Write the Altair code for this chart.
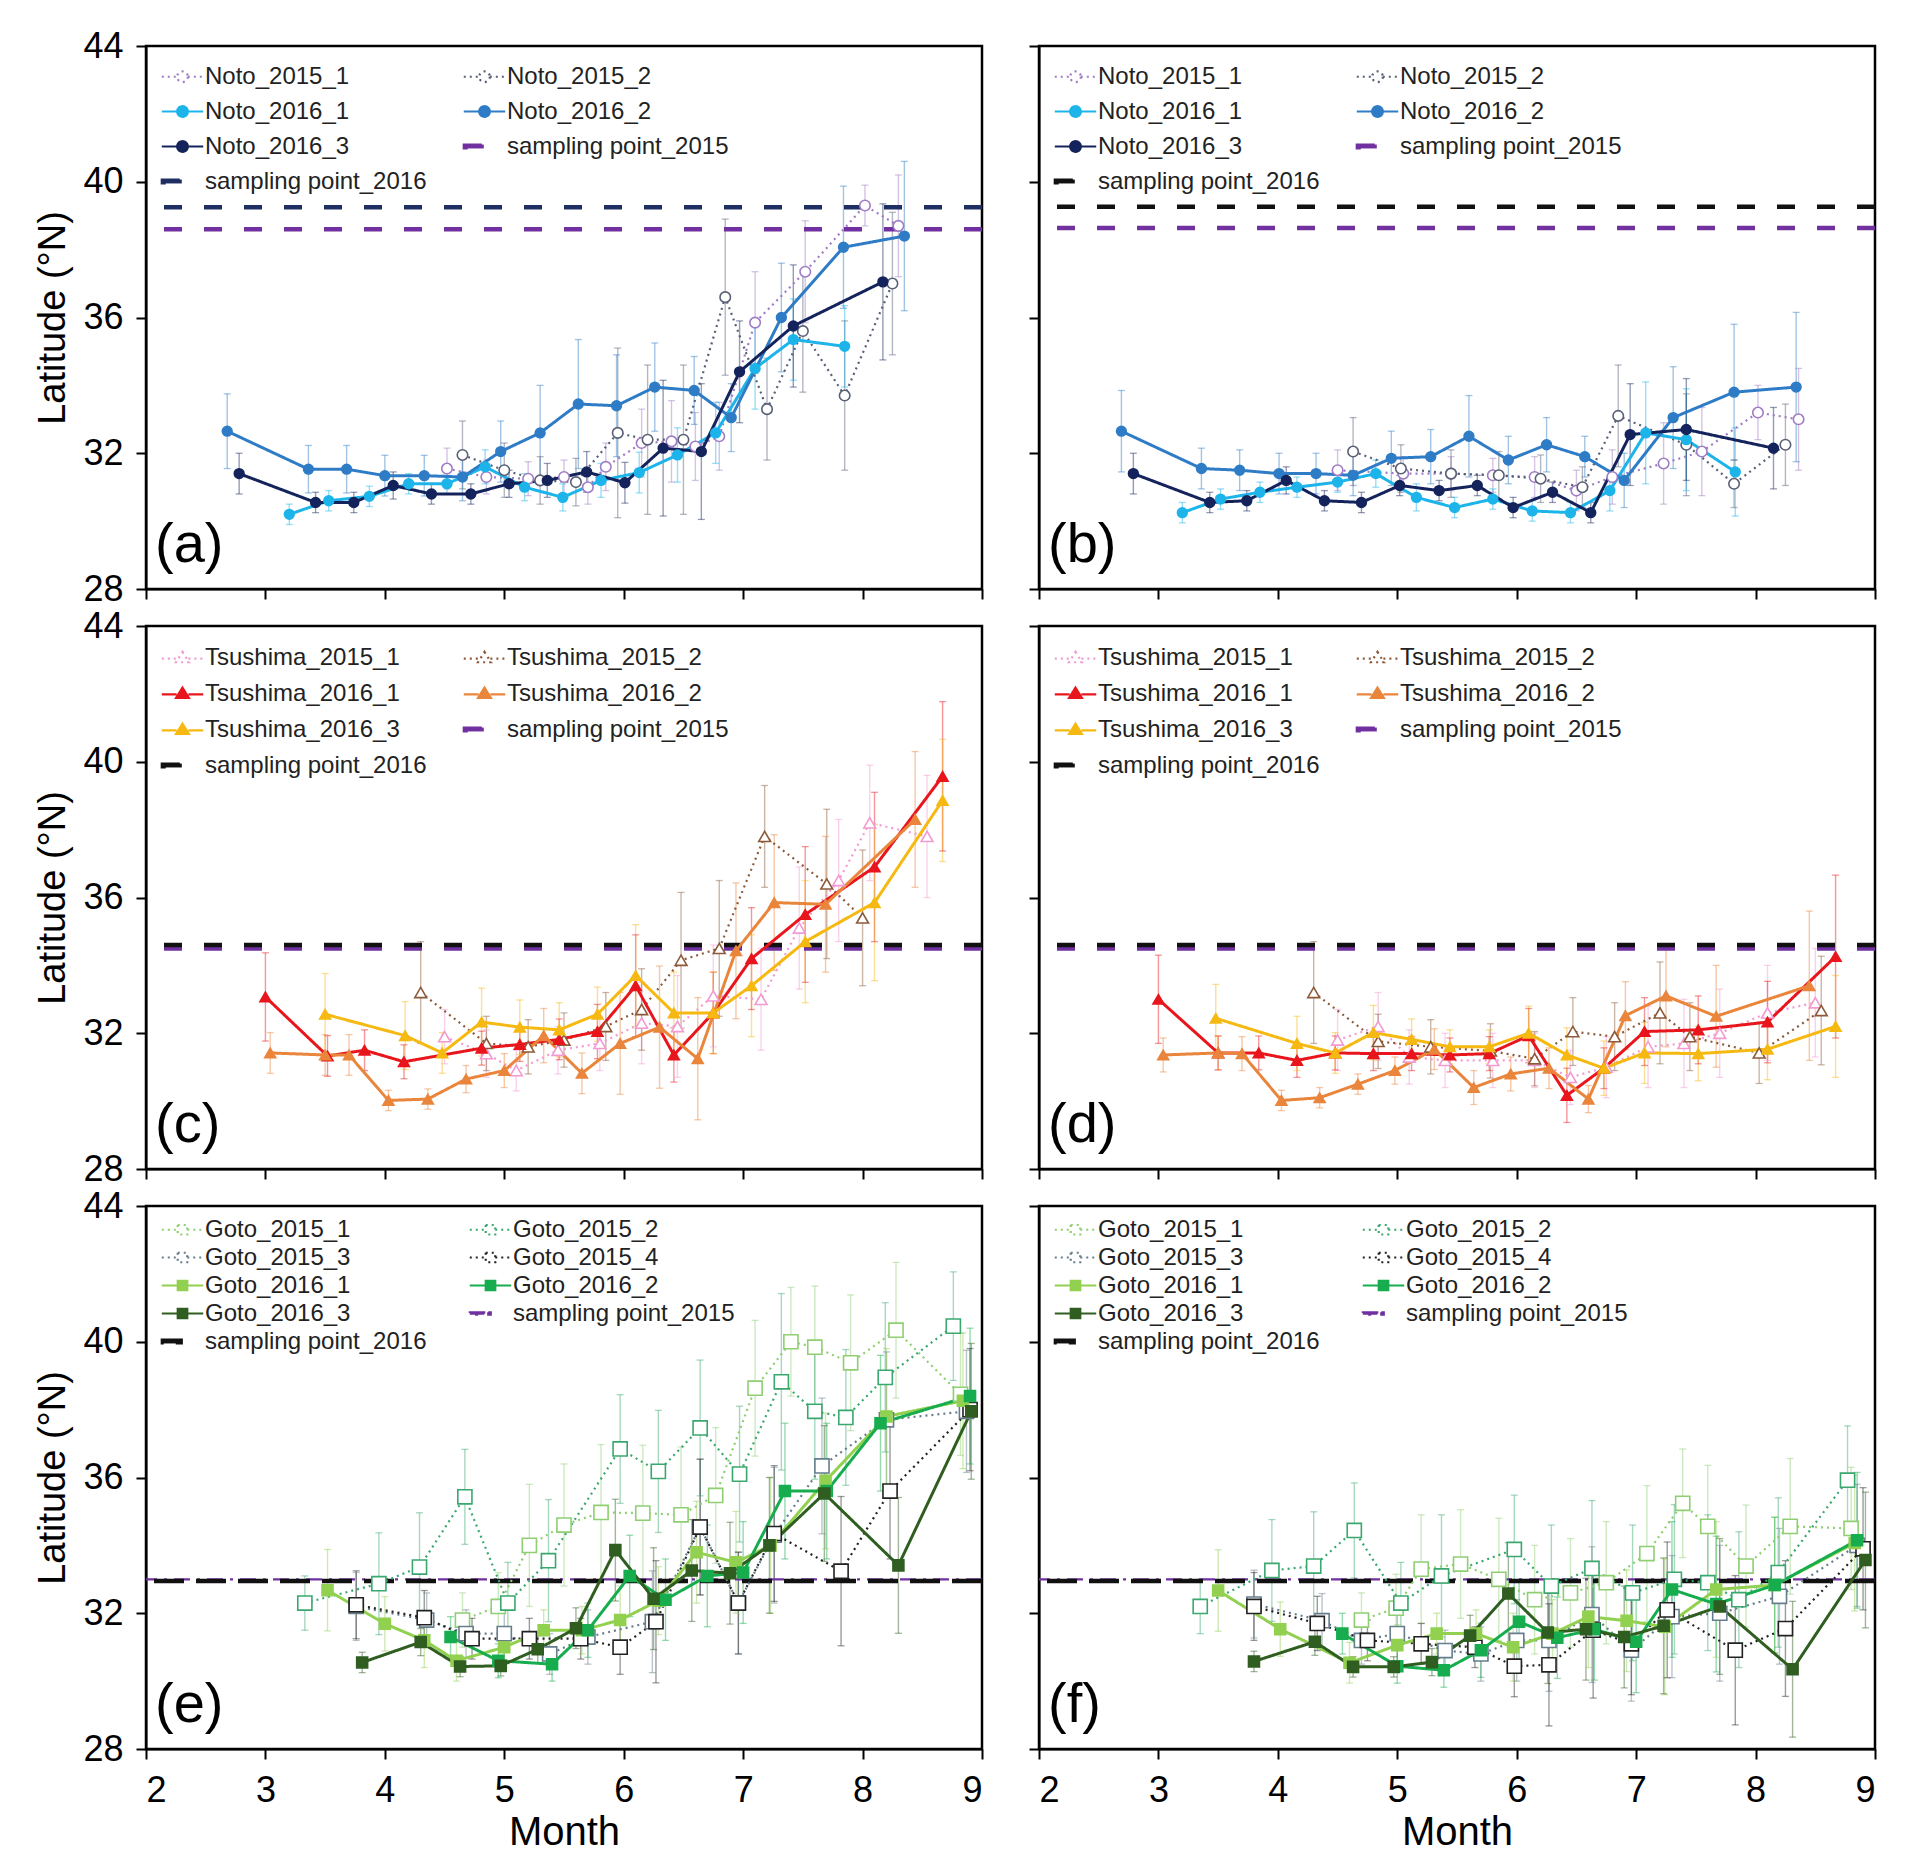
import altair as alt
import pandas as pd

# ---------------------------------------------------------------- data
# (a) Noto, all
a_noto2015_1_month = [4.52, 4.85, 5.2, 5.5, 5.7, 5.85, 6.15, 6.4, 6.6, 6.8, 7.1, 7.52, 8.02, 8.3]
a_noto2015_1_lat = [31.55, 31.3, 31.25, 31.3, 31.0, 31.6, 32.3, 32.35, 32.2, 32.5, 35.85, 37.35, 39.3, 38.7]
a_noto2015_1_err = [0.6, 0.5, 0.5, 0.5, 0.5, 0.7, 1.0, 1.2, 1.0, 1.0, 1.5, 1.5, 0.6, 1.5]
a_noto2015_2_month = [4.65, 5.0, 5.3, 5.6, 5.95, 6.2, 6.5, 6.85, 7.2, 7.5, 7.85, 8.25]
a_noto2015_2_lat = [31.95, 31.5, 31.2, 31.15, 32.6, 32.4, 32.4, 36.6, 33.3, 35.6, 33.7, 37.0]
a_noto2015_2_err = [1.0, 0.8, 0.7, 0.7, 2.5, 2.2, 2.2, 2.3, 1.5, 1.8, 2.2, 2.1]
a_noto2016_1_month = [3.2, 3.53, 3.87, 4.2, 4.52, 4.84, 5.17, 5.49, 5.81, 6.13, 6.45, 6.77, 7.1, 7.42, 7.85]
a_noto2016_1_lat = [30.2, 30.6, 30.73, 31.1, 31.1, 31.6, 31.0, 30.7, 31.2, 31.43, 31.95, 32.6, 34.5, 35.35, 35.15]
a_noto2016_1_err = [0.3, 0.3, 0.3, 0.3, 0.3, 0.5, 0.4, 0.4, 0.5, 0.6, 0.8, 0.9, 1.2, 1.2, 1.2]
a_noto2016_2_month = [2.68, 3.36, 3.68, 4.0, 4.33, 4.65, 4.97, 5.3, 5.62, 5.94, 6.26, 6.59, 6.9, 7.32, 7.84, 8.35]
a_noto2016_2_lat = [32.65, 31.53, 31.53, 31.34, 31.34, 31.3, 32.05, 32.6, 33.45, 33.4, 33.95, 33.85, 33.05, 36.0, 38.07, 38.4]
a_noto2016_2_err = [1.1, 0.7, 0.7, 0.6, 0.6, 0.7, 0.9, 1.4, 1.9, 1.5, 1.3, 1.0, 1.0, 1.6, 1.8, 2.2]
a_noto2016_3_month = [2.78, 3.42, 3.74, 4.07, 4.39, 4.72, 5.04, 5.36, 5.69, 6.01, 6.33, 6.65, 6.97, 7.42, 8.17]
a_noto2016_3_lat = [31.4, 30.55, 30.55, 31.05, 30.8, 30.8, 31.1, 31.2, 31.45, 31.13, 32.15, 32.05, 34.4, 35.75, 37.05]
a_noto2016_3_err = [0.6, 0.3, 0.3, 0.4, 0.3, 0.3, 0.4, 0.5, 0.6, 0.6, 2.0, 2.0, 1.5, 1.8, 2.3]
a_sampling_lat = [38.6, 39.25]

# (b) Noto, second estimate
b_noto2015_1_month = [4.5, 5.05, 5.45, 5.8, 6.15, 6.5, 6.8, 7.23, 7.55, 8.02, 8.36]
b_noto2015_1_lat = [31.5, 31.4, 31.4, 31.35, 31.3, 30.9, 31.3, 31.7, 32.05, 33.2, 33.0]
b_noto2015_1_err = [0.6, 0.5, 0.5, 0.5, 0.6, 0.6, 0.8, 1.2, 1.3, 0.8, 1.5]
b_noto2015_2_month = [4.63, 5.03, 5.45, 5.85, 6.2, 6.55, 6.85, 7.42, 7.82, 8.25]
b_noto2015_2_lat = [32.05, 31.55, 31.4, 31.35, 31.25, 31.0, 33.1, 32.25, 31.1, 32.25]
b_noto2015_2_err = [1.0, 0.7, 0.7, 0.7, 0.7, 0.6, 1.5, 1.5, 0.7, 1.2]
b_noto2016_1_month = [3.2, 3.52, 3.85, 4.16, 4.5, 4.82, 5.16, 5.48, 5.8, 6.13, 6.45, 6.78, 7.08, 7.42, 7.83]
b_noto2016_1_lat = [30.25, 30.65, 30.85, 31.0, 31.15, 31.4, 30.7, 30.4, 30.65, 30.3, 30.25, 30.9, 32.6, 32.4, 31.45]
b_noto2016_1_err = [0.3, 0.3, 0.3, 0.3, 0.3, 0.4, 0.4, 0.3, 0.3, 0.3, 0.3, 0.6, 1.5, 1.5, 1.3]
b_noto2016_2_month = [2.69, 3.36, 3.68, 4.01, 4.32, 4.63, 4.95, 5.28, 5.6, 5.93, 6.25, 6.57, 6.9, 7.31, 7.82, 8.34]
b_noto2016_2_lat = [32.65, 31.55, 31.5, 31.4, 31.4, 31.35, 31.85, 31.9, 32.5, 31.8, 32.25, 31.9, 31.2, 33.05, 33.8, 33.95]
b_noto2016_2_err = [1.2, 0.6, 0.6, 0.6, 0.6, 0.6, 0.8, 0.8, 1.2, 0.7, 0.8, 0.6, 0.8, 1.5, 2.0, 2.2]
b_noto2016_3_month = [2.79, 3.43, 3.74, 4.07, 4.39, 4.7, 5.02, 5.35, 5.67, 5.97, 6.3, 6.62, 6.95, 7.42, 8.15]
b_noto2016_3_lat = [31.4, 30.55, 30.6, 31.2, 30.6, 30.55, 31.05, 30.9, 31.05, 30.4, 30.85, 30.25, 32.55, 32.7, 32.15]
b_noto2016_3_err = [0.6, 0.3, 0.3, 0.4, 0.3, 0.3, 0.3, 0.3, 0.3, 0.3, 0.3, 0.3, 1.5, 1.5, 1.2]
b_sampling_lat = [38.64, 39.26]

# (c) Tsushima, all
c_tsu2015_1_month = [4.5, 4.85, 5.1, 5.45, 5.8, 6.15, 6.45, 6.75, 7.15, 7.47, 7.8, 8.06, 8.54]
c_tsu2015_1_lat = [31.9, 31.4, 30.9, 31.5, 31.7, 32.3, 32.2, 33.1, 33.0, 35.1, 36.5, 38.2, 37.8]
c_tsu2015_1_err = [0.8, 0.7, 0.6, 0.7, 0.8, 1.2, 1.5, 1.5, 1.5, 1.8, 1.8, 1.7, 1.8]
c_tsu2015_2_month = [4.3, 4.85, 5.2, 5.5, 5.85, 6.15, 6.48, 6.8, 7.18, 7.7, 8.0]
c_tsu2015_2_lat = [33.2, 31.7, 31.6, 31.8, 32.2, 32.7, 34.15, 34.5, 37.8, 36.4, 35.4]
c_tsu2015_2_err = [1.5, 0.8, 0.8, 0.8, 1.0, 1.2, 2.0, 2.0, 1.5, 2.2, 2.0]
c_tsu2016_1_month = [3.0, 3.52, 3.83, 4.16, 4.81, 5.13, 5.46, 5.78, 6.1, 6.42, 6.75, 7.07, 7.52, 8.1, 8.67]
c_tsu2016_1_lat = [33.07, 31.33, 31.5, 31.16, 31.56, 31.67, 31.82, 32.05, 33.4, 31.36, 32.6, 34.2, 35.5, 36.9, 39.57]
c_tsu2016_1_err = [1.3, 0.6, 0.6, 0.5, 0.5, 0.5, 0.6, 0.8, 1.5, 0.8, 1.2, 1.5, 2.0, 2.2, 2.2]
c_tsu2016_2_month = [3.04, 3.5, 3.7, 4.03, 4.36, 4.68, 5.0, 5.33, 5.65, 5.97, 6.3, 6.62, 6.94, 7.26, 7.69, 8.44]
c_tsu2016_2_lat = [31.42, 31.36, 31.36, 30.02, 30.06, 30.65, 30.9, 31.93, 30.82, 31.7, 32.18, 31.25, 34.43, 35.85, 35.8, 38.3]
c_tsu2016_2_err = [0.6, 0.6, 0.6, 0.3, 0.3, 0.4, 0.5, 0.8, 0.6, 1.5, 1.8, 1.8, 2.0, 2.0, 2.0, 2.0]
c_tsu2016_3_month = [3.5, 4.17, 4.48, 4.81, 5.13, 5.46, 5.78, 6.1, 6.42, 6.75, 7.07, 7.52, 8.1, 8.67]
c_tsu2016_3_lat = [32.56, 31.93, 31.42, 32.33, 32.18, 32.1, 32.56, 33.7, 32.6, 32.6, 33.4, 34.7, 35.85, 38.86]
c_tsu2016_3_err = [1.2, 1.0, 0.6, 1.0, 0.8, 0.8, 0.8, 1.5, 1.2, 1.2, 1.5, 1.8, 2.3, 1.8]
c_sampling_lat = [34.5, 34.6]

# (d) Tsushima, second estimate
d_tsu2015_1_month = [4.5, 4.84, 5.1, 5.4, 5.8, 6.15, 6.45, 6.75, 7.1, 7.4, 7.7, 8.1, 8.5]
d_tsu2015_1_lat = [31.8, 32.2, 31.3, 31.2, 31.2, 31.2, 30.7, 31.0, 31.6, 31.7, 32.0, 32.6, 32.9]
d_tsu2015_1_err = [0.9, 1.0, 0.8, 0.8, 0.8, 0.8, 0.8, 0.9, 1.2, 1.3, 1.3, 1.4, 1.6]
d_tsu2015_2_month = [4.3, 4.84, 5.28, 5.78, 6.15, 6.47, 6.82, 7.2, 7.45, 8.03, 8.55]
d_tsu2015_2_lat = [33.2, 31.76, 31.6, 31.48, 31.25, 32.05, 31.9, 32.6, 31.9, 31.42, 32.67]
d_tsu2015_2_err = [1.5, 0.8, 0.8, 0.8, 0.8, 1.0, 1.0, 1.5, 1.0, 0.9, 1.6]
d_tsu2016_1_month = [3.0, 3.5, 3.84, 4.16, 4.48, 4.8, 5.12, 5.44, 5.77, 6.1, 6.42, 6.73, 7.07, 7.52, 8.1, 8.67]
d_tsu2016_1_lat = [33.0, 31.42, 31.42, 31.2, 31.42, 31.4, 31.4, 31.36, 31.4, 31.93, 30.17, 30.97, 32.05, 32.1, 32.33, 34.26]
d_tsu2016_1_err = [1.3, 0.5, 0.5, 0.5, 0.5, 0.5, 0.5, 0.5, 0.5, 0.8, 0.8, 0.6, 1.0, 1.0, 1.2, 2.4]
d_tsu2016_2_month = [3.04, 3.5, 3.7, 4.03, 4.35, 4.67, 4.98, 5.31, 5.64, 5.95, 6.27, 6.6, 6.91, 7.25, 7.67, 8.45]
d_tsu2016_2_lat = [31.36, 31.42, 31.4, 30.02, 30.1, 30.5, 30.9, 31.53, 30.4, 30.8, 30.97, 30.06, 32.52, 33.1, 32.5, 33.4]
d_tsu2016_2_err = [0.5, 0.5, 0.5, 0.3, 0.3, 0.3, 0.4, 0.6, 0.5, 0.5, 0.6, 0.4, 1.0, 1.5, 1.5, 2.2]
d_tsu2016_3_month = [3.48, 4.16, 4.48, 4.8, 5.12, 5.44, 5.77, 6.1, 6.42, 6.73, 7.07, 7.52, 8.1, 8.67]
d_tsu2016_3_lat = [32.44, 31.7, 31.42, 32.02, 31.82, 31.6, 31.6, 32.0, 31.36, 30.97, 31.42, 31.4, 31.53, 32.2]
d_tsu2016_3_err = [1.0, 0.8, 0.6, 0.8, 0.6, 0.5, 0.5, 0.8, 0.8, 0.8, 0.9, 0.8, 0.9, 1.5]
d_sampling_lat = [34.5, 34.6]

# (e) Goto, all
e_goto2015_1_month = [4.65, 4.95, 5.21, 5.5, 5.81, 6.16, 6.48, 6.77, 7.1, 7.4, 7.6, 7.9, 8.28, 8.82]
e_goto2015_1_lat = [31.8, 32.2, 34.0, 34.6, 34.97, 34.95, 34.9, 35.47, 38.63, 40.0, 39.84, 39.38, 40.34, 38.45]
e_goto2015_1_err = [0.8, 1.0, 1.8, 1.8, 2.0, 2.0, 2.0, 2.0, 2.0, 1.6, 1.8, 2.0, 2.0, 1.8]
e_goto2015_2_month = [3.33, 3.95, 4.29, 4.67, 5.03, 5.37, 5.97, 6.29, 6.64, 6.97, 7.32, 7.6, 7.86, 8.19, 8.76]
e_goto2015_2_lat = [32.3, 32.87, 33.36, 35.43, 32.3, 33.55, 36.84, 36.18, 37.46, 36.1, 38.82, 37.95, 37.77, 38.95, 40.46]
e_goto2015_2_err = [0.8, 1.5, 1.6, 1.4, 1.2, 1.8, 1.6, 1.8, 2.0, 2.0, 2.6, 2.0, 2.0, 2.2, 1.6]
e_goto2015_3_month = [3.76, 4.35, 4.68, 5.0, 5.38, 5.7, 6.24, 6.64, 6.96, 7.26, 7.66, 8.2, 8.87]
e_goto2015_3_lat = [32.2, 31.8, 31.4, 31.4, 30.8, 31.3, 31.75, 34.54, 32.3, 34.3, 36.34, 37.7, 37.95]
e_goto2015_3_err = [1.0, 0.8, 0.7, 0.8, 0.6, 0.8, 1.5, 2.0, 1.5, 2.0, 2.0, 2.0, 1.8]
e_goto2015_4_month = [3.76, 4.33, 4.73, 5.21, 5.64, 5.97, 6.27, 6.64, 6.96, 7.26, 7.82, 8.23, 8.9]
e_goto2015_4_lat = [32.25, 31.87, 31.25, 31.25, 31.25, 31.0, 31.75, 34.54, 32.3, 34.35, 33.24, 35.6, 38.0]
e_goto2015_4_err = [1.0, 0.8, 0.6, 0.6, 0.6, 0.8, 1.8, 2.0, 1.5, 2.0, 2.2, 2.0, 1.8]
e_goto2016_1_month = [3.52, 4.0, 4.33, 4.6, 5.0, 5.33, 5.65, 5.97, 6.29, 6.61, 6.94, 7.23, 7.69, 8.2, 8.84]
e_goto2016_1_lat = [32.68, 31.69, 31.2, 30.6, 31.0, 31.5, 31.5, 31.8, 32.37, 33.8, 33.5, 34.0, 35.9, 37.8, 38.26]
e_goto2016_1_err = [1.2, 0.8, 0.8, 0.6, 0.6, 0.6, 0.7, 1.0, 1.0, 1.5, 1.5, 2.0, 2.0, 2.0, 2.0]
e_goto2016_2_month = [4.55, 4.95, 5.4, 5.7, 6.05, 6.35, 6.7, 7.0, 7.35, 7.7, 8.15, 8.9]
e_goto2016_2_lat = [31.3, 30.6, 30.5, 31.5, 33.1, 32.4, 33.1, 33.2, 35.6, 35.6, 37.6, 38.4]
e_goto2016_2_err = [0.6, 0.5, 0.5, 0.8, 1.2, 1.2, 1.5, 1.5, 2.0, 2.0, 2.0, 2.0]
e_goto2016_3_month = [3.81, 4.3, 4.63, 4.97, 5.28, 5.6, 5.93, 6.25, 6.57, 6.89, 7.22, 7.68, 8.3, 8.91]
e_goto2016_3_lat = [30.55, 31.15, 30.43, 30.45, 30.94, 31.56, 33.86, 32.43, 33.26, 33.18, 34.0, 35.53, 33.41, 37.95]
e_goto2016_3_err = [0.3, 0.4, 0.3, 0.3, 0.4, 0.6, 1.5, 1.5, 1.5, 1.5, 2.0, 2.0, 2.0, 2.0]
e_sampling_lat = [33.0, 32.95]

# (f) Goto, second estimate
f_goto2015_1_month = [4.7, 4.99, 5.2, 5.53, 5.85, 6.15, 6.45, 6.75, 7.09, 7.39, 7.6, 7.92, 8.29, 8.8]
f_goto2015_1_lat = [31.8, 32.15, 33.3, 33.45, 33.0, 32.4, 32.6, 32.9, 33.76, 35.24, 34.56, 33.39, 34.56, 34.5]
f_goto2015_1_err = [0.8, 1.0, 1.6, 1.6, 1.8, 1.6, 1.6, 1.8, 2.0, 1.6, 1.8, 1.8, 2.0, 1.8]
f_goto2015_2_month = [3.35, 3.95, 4.3, 4.64, 5.03, 5.37, 5.98, 6.29, 6.63, 6.97, 7.32, 7.6, 7.86, 8.19, 8.77]
f_goto2015_2_lat = [32.2, 33.26, 33.39, 34.44, 32.3, 33.1, 33.88, 32.8, 33.32, 32.6, 33.0, 32.9, 32.4, 33.2, 35.92]
f_goto2015_2_err = [0.8, 1.5, 1.6, 1.4, 1.2, 1.8, 1.6, 1.8, 2.0, 2.0, 2.2, 2.0, 2.0, 2.2, 1.6]
f_goto2015_3_month = [3.8, 4.37, 4.7, 5.0, 5.4, 5.7, 6.0, 6.27, 6.63, 6.96, 7.3, 7.7, 8.2, 8.85]
f_goto2015_3_lat = [32.27, 31.78, 31.2, 31.4, 30.9, 30.8, 31.2, 31.2, 31.96, 30.91, 31.9, 32.0, 32.5, 34.0]
f_goto2015_3_err = [1.0, 0.8, 0.7, 0.8, 0.6, 0.8, 1.2, 1.5, 2.0, 1.5, 1.8, 2.0, 2.0, 1.8]
f_goto2015_4_month = [3.8, 4.33, 4.75, 5.2, 5.65, 5.98, 6.27, 6.64, 6.96, 7.26, 7.83, 8.25, 8.9]
f_goto2015_4_lat = [32.2, 31.7, 31.2, 31.1, 31.0, 30.44, 30.48, 31.5, 31.1, 32.1, 30.91, 31.55, 33.9]
f_goto2015_4_err = [1.0, 0.8, 0.6, 0.6, 0.6, 0.9, 1.8, 2.0, 1.5, 2.0, 2.2, 2.0, 1.8]
f_goto2016_1_month = [3.5, 4.02, 4.6, 5.0, 5.33, 5.66, 5.97, 6.3, 6.6, 6.92, 7.24, 7.67, 8.16, 8.83]
f_goto2016_1_lat = [32.67, 31.53, 30.54, 31.06, 31.4, 31.4, 31.0, 31.4, 31.9, 31.78, 31.6, 32.7, 32.83, 34.07]
f_goto2016_1_err = [1.2, 0.8, 0.6, 0.6, 0.6, 0.7, 1.0, 1.0, 1.5, 1.5, 2.0, 2.0, 2.0, 2.0]
f_goto2016_2_month = [4.54, 5.0, 5.39, 5.7, 6.02, 6.34, 6.65, 7.0, 7.3, 7.67, 8.16, 8.85]
f_goto2016_2_lat = [31.4, 30.44, 30.32, 30.91, 31.75, 31.28, 31.53, 31.16, 32.7, 32.27, 32.83, 34.15]
f_goto2016_2_err = [0.6, 0.5, 0.5, 0.8, 1.2, 1.2, 1.5, 1.5, 2.0, 2.0, 2.0, 2.0]
f_goto2016_3_month = [3.8, 4.31, 4.63, 4.97, 5.29, 5.61, 5.93, 6.26, 6.58, 6.9, 7.23, 7.7, 8.31, 8.92]
f_goto2016_3_lat = [30.58, 31.16, 30.42, 30.42, 30.56, 31.34, 32.58, 31.43, 31.53, 31.3, 31.63, 32.2, 30.35, 33.57]
f_goto2016_3_err = [0.3, 0.4, 0.3, 0.3, 0.4, 0.6, 1.5, 1.5, 1.5, 1.5, 2.0, 2.0, 2.0, 2.0]
f_sampling_lat = [33.0, 32.95]

month_ticks = [2, 3, 4, 5, 6, 7, 8, 9]
lat_ticks = [28, 32, 36, 40, 44]
sampling_names = ["sampling point_2015", "sampling point_2016"]
panel_tags = ["(a)", "(b)", "(c)", "(d)", "(e)", "(f)"]

# ---------------------------------------------------------------- styles
FONT = "Liberation Sans"
W, H = 836, 543
DOT = [2, 4]
SOLID = [1, 0]
SAMP_DASH = [18, 22]
GOTO16_DASH = [30, 12]
GOTO15_DASHDOT = [16, 7, 3, 7]
PURPLE = "#7030a0"

# legend symbols (line + marker), unit = 14 px
LEG_CIRCLE = ("M-1.48,0L-0.38,0M0.38,0L1.48,0"
              "M0.38,0A0.38,0.38 0 1 1 -0.38,0A0.38,0.38 0 1 1 0.38,0")
LEG_TRI = "M-1.48,0.06L-0.42,0.06M0.42,0.06L1.48,0.06M0,-0.42L0.46,0.32L-0.46,0.32Z"
LEG_SQ = "M-1.48,0L-0.34,0M0.34,0L1.48,0M-0.34,-0.34L0.34,-0.34L0.34,0.34L-0.34,0.34Z"
LEG_DASH = "M-1.48,-0.14L-0.05,-0.14L-0.05,0.14L-1.48,0.14Z"
LEG_DASHDOT = ("M-1.48,-0.09L-0.45,-0.09L-0.45,0.09L-1.48,0.09Z"
               "M-0.16,-0.09L0.02,-0.09L0.02,0.09L-0.16,0.09Z")


def series(name, month, lat, err, year, color):
    return dict(name=name, month=month, lat=lat, err=err, year=year, color=color)


def col_major(items):
    # legend is filled column by column: reorder so it reads row by row
    return items[0::2] + items[1::2]


def build_panel(tag, ser, samp, samp_lat, marker, leg_marker, open_size, fill_size,
                leg_y, row_pad, col_pad, show_x, show_y):
    frames = []
    for s in ser:
        frames.append(pd.DataFrame({
            "series": s["name"], "month": s["month"], "lat": s["lat"],
            "lo": [v - e for v, e in zip(s["lat"], s["err"])],
            "hi": [v + e for v, e in zip(s["lat"], s["err"])],
            "year": s["year"],
        }))
    pts = pd.concat(frames, ignore_index=True)
    sdf = pd.DataFrame({"series": [s["name"] for s in samp], "lat": samp_lat})

    names = col_major([s["name"] for s in ser] + [s["name"] for s in samp])
    strokes = col_major([s["color"] for s in ser] + [s["color"] for s in samp])
    fills = col_major([("white" if s["year"] == 2015 else s["color"]) for s in ser]
                      + [s["color"] for s in samp])
    dashes = col_major([(DOT if s["year"] == 2015 else SOLID) for s in ser]
                       + [s["dash"] for s in samp])
    shapes = col_major([leg_marker] * len(ser) + [s["sym"] for s in samp])

    leg = alt.Legend(
        title=None, orient="none", legendX=21, legendY=leg_y, columns=2,
        columnPadding=col_pad, rowPadding=row_pad, padding=0,
        symbolSize=784, symbolStrokeWidth=2.2, symbolOpacity=1,
        symbolFillColor="white", symbolStrokeColor="black",
        labelFont=FONT, labelFontSize=24, labelColor="#222222", labelOffset=7,
        labelLimit=400, symbolLimit=0,
    )
    stroke = alt.Stroke("series:N", scale=alt.Scale(domain=names, range=strokes), legend=leg)
    fill = alt.Fill("series:N", scale=alt.Scale(domain=names, range=fills), legend=leg)
    dash = alt.StrokeDash("series:N", scale=alt.Scale(domain=names, range=dashes), legend=leg)
    shape = alt.Shape("series:N", scale=alt.Scale(domain=names, range=shapes), legend=leg)

    xax = alt.Axis(values=month_ticks, labels=show_x, title="Month" if show_x else None, format="d")
    yax = alt.Axis(values=lat_ticks, labels=show_y, title="Latitude (°N)" if show_y else None)
    xs = alt.Scale(domain=[2, 9], nice=False, zero=False)
    ys = alt.Scale(domain=[28, 44], nice=False, zero=False)
    X = alt.X("month:Q", scale=xs, axis=xax)
    Y = alt.Y("lat:Q", scale=ys, axis=yax)

    base = alt.Chart(pts)
    legend_layer = base.transform_filter("datum.month < 0").mark_point(
        filled=True, opacity=1, size=784, strokeWidth=2.2
    ).encode(x=X, y=Y, shape=shape, stroke=stroke, fill=fill, strokeDash=dash)

    err_layer = base.mark_rule(strokeWidth=1.4, strokeOpacity=0.45).encode(
        x=X, y=alt.Y("lo:Q", scale=ys, axis=yax), y2="hi:Q", stroke=stroke)
    cap_lo = base.mark_rule(strokeWidth=1.3, strokeOpacity=0.45, xOffset=-3.5, x2Offset=3.5).encode(
        x=X, x2="month:Q", y=alt.Y("lo:Q", scale=ys, axis=yax), stroke=stroke)
    cap_hi = base.mark_rule(strokeWidth=1.3, strokeOpacity=0.45, xOffset=-3.5, x2Offset=3.5).encode(
        x=X, x2="month:Q", y=alt.Y("hi:Q", scale=ys, axis=yax), stroke=stroke)

    samp_layers = []
    for s, v in zip(samp, samp_lat):
        samp_layers.append(
            alt.Chart(sdf).transform_filter(alt.datum.series == s["name"]).mark_rule(
                strokeWidth=s["width"]).encode(y=Y, stroke=stroke, strokeDash=dash))

    line15 = base.transform_filter("datum.year == 2015").mark_line(strokeWidth=2.2).encode(
        x=X, y=Y, stroke=stroke, strokeDash=dash)
    line16 = base.transform_filter("datum.year == 2016").mark_line(strokeWidth=3).encode(
        x=X, y=Y, stroke=stroke, strokeDash=dash)
    pt15 = base.transform_filter("datum.year == 2015").mark_point(
        shape=marker, size=open_size, strokeWidth=1.6, opacity=1, filled=True).encode(
        x=X, y=Y, stroke=stroke, fill=fill)
    pt16 = base.transform_filter("datum.year == 2016").mark_point(
        shape=marker, size=fill_size, strokeWidth=1.6, opacity=1, filled=True).encode(
        x=X, y=Y, stroke=stroke, fill=fill)

    tag_layer = alt.Chart(pd.DataFrame({"tag": [tag]})).mark_text(
        align="left", baseline="alphabetic", fontSize=56, font=FONT, color="black"
    ).encode(text="tag:N", x=alt.value(9), y=alt.value(H - 27))

    return alt.layer(legend_layer, err_layer, cap_lo, cap_hi, *samp_layers, line15, line16,
                     pt15, pt16, tag_layer).properties(width=W, height=H)


noto_colors = ["#a07cc4", "#596076", "#1db4ea", "#2f7cc6", "#14235c"]
tsu_colors = ["#f29ad2", "#8c5a3a", "#e8161c", "#ea853c", "#f6b912"]
goto_colors = ["#8fcf72", "#3aa86e", "#667d8c", "#222222", "#92d050", "#17ad4f", "#2f5e20"]

noto_names = ["Noto_2015_1", "Noto_2015_2", "Noto_2016_1", "Noto_2016_2", "Noto_2016_3"]
tsu_names = ["Tsushima_2015_1", "Tsushima_2015_2", "Tsushima_2016_1", "Tsushima_2016_2", "Tsushima_2016_3"]
goto_names = ["Goto_2015_1", "Goto_2015_2", "Goto_2015_3", "Goto_2015_4",
              "Goto_2016_1", "Goto_2016_2", "Goto_2016_3"]

samp_a = [dict(name=sampling_names[0], color=PURPLE, dash=SAMP_DASH, width=4.5, sym=LEG_DASH),
          dict(name=sampling_names[1], color="#1f2f63", dash=SAMP_DASH, width=4.5, sym=LEG_DASH)]
samp_b = [dict(name=sampling_names[0], color=PURPLE, dash=SAMP_DASH, width=4.5, sym=LEG_DASH),
          dict(name=sampling_names[1], color="#111111", dash=SAMP_DASH, width=4.5, sym=LEG_DASH)]
samp_g = [dict(name=sampling_names[0], color=PURPLE, dash=GOTO15_DASHDOT, width=2.2, sym=LEG_DASHDOT),
          dict(name=sampling_names[1], color="#111111", dash=GOTO16_DASH, width=4.5, sym=LEG_DASH)]

ser_a = [
    series(noto_names[0], a_noto2015_1_month, a_noto2015_1_lat, a_noto2015_1_err, 2015, noto_colors[0]),
    series(noto_names[1], a_noto2015_2_month, a_noto2015_2_lat, a_noto2015_2_err, 2015, noto_colors[1]),
    series(noto_names[2], a_noto2016_1_month, a_noto2016_1_lat, a_noto2016_1_err, 2016, noto_colors[2]),
    series(noto_names[3], a_noto2016_2_month, a_noto2016_2_lat, a_noto2016_2_err, 2016, noto_colors[3]),
    series(noto_names[4], a_noto2016_3_month, a_noto2016_3_lat, a_noto2016_3_err, 2016, noto_colors[4]),
]
ser_b = [
    series(noto_names[0], b_noto2015_1_month, b_noto2015_1_lat, b_noto2015_1_err, 2015, noto_colors[0]),
    series(noto_names[1], b_noto2015_2_month, b_noto2015_2_lat, b_noto2015_2_err, 2015, noto_colors[1]),
    series(noto_names[2], b_noto2016_1_month, b_noto2016_1_lat, b_noto2016_1_err, 2016, noto_colors[2]),
    series(noto_names[3], b_noto2016_2_month, b_noto2016_2_lat, b_noto2016_2_err, 2016, noto_colors[3]),
    series(noto_names[4], b_noto2016_3_month, b_noto2016_3_lat, b_noto2016_3_err, 2016, noto_colors[4]),
]
ser_c = [
    series(tsu_names[0], c_tsu2015_1_month, c_tsu2015_1_lat, c_tsu2015_1_err, 2015, tsu_colors[0]),
    series(tsu_names[1], c_tsu2015_2_month, c_tsu2015_2_lat, c_tsu2015_2_err, 2015, tsu_colors[1]),
    series(tsu_names[2], c_tsu2016_1_month, c_tsu2016_1_lat, c_tsu2016_1_err, 2016, tsu_colors[2]),
    series(tsu_names[3], c_tsu2016_2_month, c_tsu2016_2_lat, c_tsu2016_2_err, 2016, tsu_colors[3]),
    series(tsu_names[4], c_tsu2016_3_month, c_tsu2016_3_lat, c_tsu2016_3_err, 2016, tsu_colors[4]),
]
ser_d = [
    series(tsu_names[0], d_tsu2015_1_month, d_tsu2015_1_lat, d_tsu2015_1_err, 2015, tsu_colors[0]),
    series(tsu_names[1], d_tsu2015_2_month, d_tsu2015_2_lat, d_tsu2015_2_err, 2015, tsu_colors[1]),
    series(tsu_names[2], d_tsu2016_1_month, d_tsu2016_1_lat, d_tsu2016_1_err, 2016, tsu_colors[2]),
    series(tsu_names[3], d_tsu2016_2_month, d_tsu2016_2_lat, d_tsu2016_2_err, 2016, tsu_colors[3]),
    series(tsu_names[4], d_tsu2016_3_month, d_tsu2016_3_lat, d_tsu2016_3_err, 2016, tsu_colors[4]),
]
ser_e = [
    series(goto_names[0], e_goto2015_1_month, e_goto2015_1_lat, e_goto2015_1_err, 2015, goto_colors[0]),
    series(goto_names[1], e_goto2015_2_month, e_goto2015_2_lat, e_goto2015_2_err, 2015, goto_colors[1]),
    series(goto_names[2], e_goto2015_3_month, e_goto2015_3_lat, e_goto2015_3_err, 2015, goto_colors[2]),
    series(goto_names[3], e_goto2015_4_month, e_goto2015_4_lat, e_goto2015_4_err, 2015, goto_colors[3]),
    series(goto_names[4], e_goto2016_1_month, e_goto2016_1_lat, e_goto2016_1_err, 2016, goto_colors[4]),
    series(goto_names[5], e_goto2016_2_month, e_goto2016_2_lat, e_goto2016_2_err, 2016, goto_colors[5]),
    series(goto_names[6], e_goto2016_3_month, e_goto2016_3_lat, e_goto2016_3_err, 2016, goto_colors[6]),
]
ser_f = [
    series(goto_names[0], f_goto2015_1_month, f_goto2015_1_lat, f_goto2015_1_err, 2015, goto_colors[0]),
    series(goto_names[1], f_goto2015_2_month, f_goto2015_2_lat, f_goto2015_2_err, 2015, goto_colors[1]),
    series(goto_names[2], f_goto2015_3_month, f_goto2015_3_lat, f_goto2015_3_err, 2015, goto_colors[2]),
    series(goto_names[3], f_goto2015_4_month, f_goto2015_4_lat, f_goto2015_4_err, 2015, goto_colors[3]),
    series(goto_names[4], f_goto2016_1_month, f_goto2016_1_lat, f_goto2016_1_err, 2016, goto_colors[4]),
    series(goto_names[5], f_goto2016_2_month, f_goto2016_2_lat, f_goto2016_2_err, 2016, goto_colors[5]),
    series(goto_names[6], f_goto2016_3_month, f_goto2016_3_lat, f_goto2016_3_err, 2016, goto_colors[6]),
]

pa = build_panel(panel_tags[0], ser_a, samp_a, a_sampling_lat, "circle", LEG_CIRCLE, 110, 95, 15, 7, 32, False, True)
pb = build_panel(panel_tags[1], ser_b, samp_b, b_sampling_lat, "circle", LEG_CIRCLE, 110, 95, 15, 7, 32, False, False)
pc = build_panel(panel_tags[2], ser_c, samp_b, c_sampling_lat, "triangle-up", LEG_TRI, 140, 120, 16, 8, 32, False, True)
pd_ = build_panel(panel_tags[3], ser_d, samp_b, d_sampling_lat, "triangle-up", LEG_TRI, 140, 120, 16, 8, 32, False, False)
pe = build_panel(panel_tags[4], ser_e, samp_g, e_sampling_lat, "square", LEG_SQ, 200, 120, 8, 0, 38, True, True)
pf = build_panel(panel_tags[5], ser_f, samp_g, f_sampling_lat, "square", LEG_SQ, 200, 120, 8, 0, 38, True, False)

chart = alt.concat(
    pa, pb, pc, pd_, pe, pf, columns=2,
    spacing=alt.RowColnumber(row=37, column=57), bounds="flush",
).resolve_scale(
    x="independent", y="independent", stroke="independent", fill="independent",
    strokeDash="independent", shape="independent",
).resolve_legend(
    stroke="independent", fill="independent", strokeDash="independent", shape="independent",
).properties(
    padding={"left": 25, "top": 18, "right": 10, "bottom": 2}
).configure(font=FONT, background="white").configure_view(
    stroke="black", strokeWidth=2.5
).configure_axis(
    grid=False, domainColor="black", domainWidth=2, tickColor="black", tickWidth=2,
    tickSize=10, labelFont=FONT, labelFontSize=36, labelColor="black",
    titleFont=FONT, titleFontSize=38, titleFontWeight="normal", titleColor="black",
).configure_axisX(labelPadding=14, titlePadding=4, titleFontSize=40).configure_axisY(
    labelPadding=13, titlePadding=10)

chart.save("out.html", embed_options={"renderer": "svg", "actions": False})
